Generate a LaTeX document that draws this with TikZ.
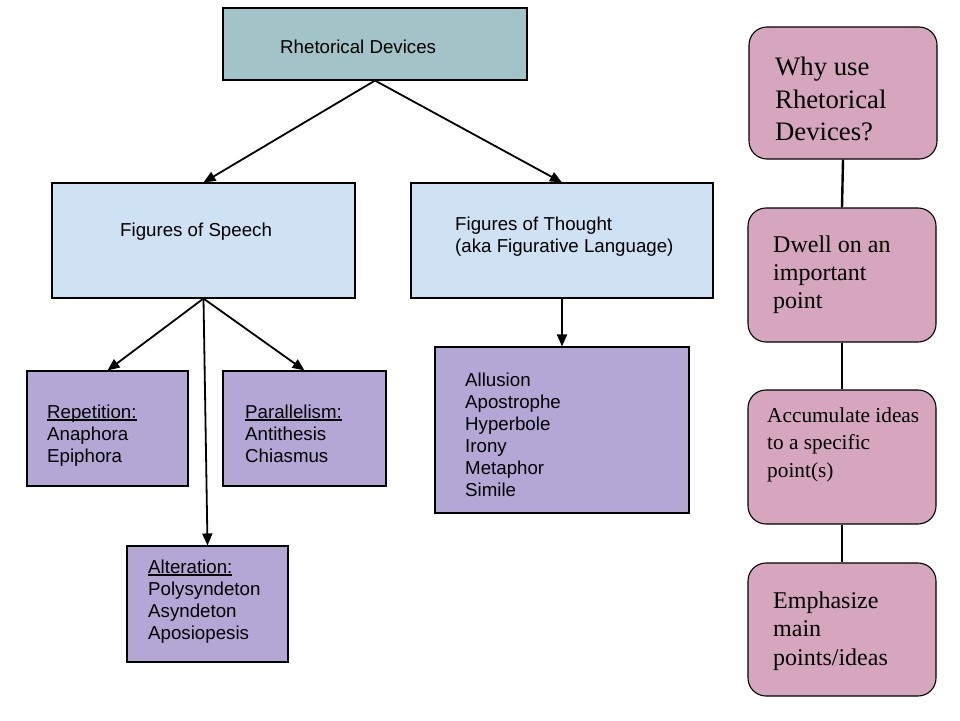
\documentclass[tikz,border=0pt]{standalone}
\usepackage{fontspec}
\setmainfont{Liberation Serif}
\setsansfont{Liberation Sans}
\usetikzlibrary{arrows.meta}
\definecolor{tealgray}{HTML}{A2C4C9}
\definecolor{paleblue}{HTML}{CFE2F3}
\definecolor{lavender}{HTML}{B4A7D6}
\definecolor{mauve}{HTML}{D5A6BD}
\newcommand{\ulabel}[1]{\setbox0\hbox{#1}\rlap{\rule[-2.2pt]{\wd0}{1.2pt}}\box0}

\begin{document}
\begin{tikzpicture}[x=1pt, y=-1pt,
		box/.style={draw, line width=1.1pt, inner sep=0pt},
		card/.style={draw, line width=1.1pt, rounded corners=18pt, fill=mauve, minimum width=188pt, inner sep=0pt},
		sans/.style={anchor=north west, inner sep=0pt, align=left, font=\sffamily\fontsize{18.7}{22}\selectfont},
		serif/.style={anchor=north west, inner sep=0pt, align=left},
		arr/.style={-{Triangle[length=12pt,width=10pt]}, line width=1.8pt}]
	\useasboundingbox (0,0) rectangle (960,720);
	\node[box, fill=tealgray, minimum width=304pt, minimum height=72pt] (rd) at (375,44) {};
	\node[box, fill=paleblue, minimum width=303pt, minimum height=115pt] (fos) at (203.5,240.5) {};
	\node[box, fill=paleblue, minimum width=302pt, minimum height=115pt] (fot) at (562,240.5) {};
	\node[box, fill=lavender, minimum width=161pt, minimum height=115pt] (rep) at (107.5,428.5) {};
	\node[box, fill=lavender, minimum width=163pt, minimum height=115pt] (par) at (304.5,428.5) {};
	\node[box, fill=lavender, minimum width=161pt, minimum height=116pt] (alt) at (207.5,604) {};
	\node[box, fill=lavender, minimum width=254pt, minimum height=166pt] (lst) at (562,430) {};

	\node[sans] (rdtext) at (280,39.6) {Rhetorical Devices};
	\node[sans] (fostext) at (120,222.6) {Figures of Speech};
	\node[sans] (fottext) at (455,216.6) {Figures of Thought\\(aka Figurative Language)};
	\node[sans] (reptext) at (47,404.6) {\ulabel{Repetition:}\\Anaphora\\Epiphora};
	\node[sans] (partext) at (245,404.6) {\ulabel{Parallelism:}\\Antithesis\\Chiasmus};
	\node[sans] (alttext) at (148,559.6) {\ulabel{Alteration:}\\Polysyndeton\\Asyndeton\\Aposiopesis};
	\node[sans] (lsttext) at (465,372.6) {Allusion\\Apostrophe\\Hyperbole\\Irony\\Metaphor\\Simile};

	\draw[arr] (rd.south) -- (fos.north);
	\draw[arr] (rd.south) -- (fot.north);
	\draw[arr] (fos.south) -- (rep.north);
	\draw[arr] (fos.south) -- (par.north);
	\draw[arr] (fos.south) -- (alt.north);
	\draw[arr] (fot.south) -- (lst.north);

	\node[card, minimum height=132pt] (why) at (843,93) {};
	\node[card, minimum height=134pt] (dwell) at (842,275) {};
	\node[card, minimum height=134pt] (accum) at (842,457) {};
	\node[card, minimum height=133pt] (emph) at (842,629.5) {};
	\draw[line width=2.4pt] (why.south) -- (dwell.north);
	\draw[line width=2.4pt] (dwell.south) -- (accum.north);
	\draw[line width=2.4pt] (accum.south) -- (emph.north);

	\node[serif, font=\fontsize{26.7}{32.5}\selectfont] (whytext) at (775,56.8) {Why use\\Rhetorical\\Devices?};
	\node[serif, font=\fontsize{24}{28}\selectfont] (dwelltext) at (773,235.6) {Dwell on an\\important\\point};
	\node[serif, font=\fontsize{21.3}{27.5}\selectfont] (accumtext) at (767,407.5) {Accumulate ideas\\to a specific\\point(s)};
	\node[serif, font=\fontsize{24}{28.5}\selectfont] (emphtext) at (773,591.6) {Emphasize\\main\\points/ideas};
\end{tikzpicture}
\end{document}
